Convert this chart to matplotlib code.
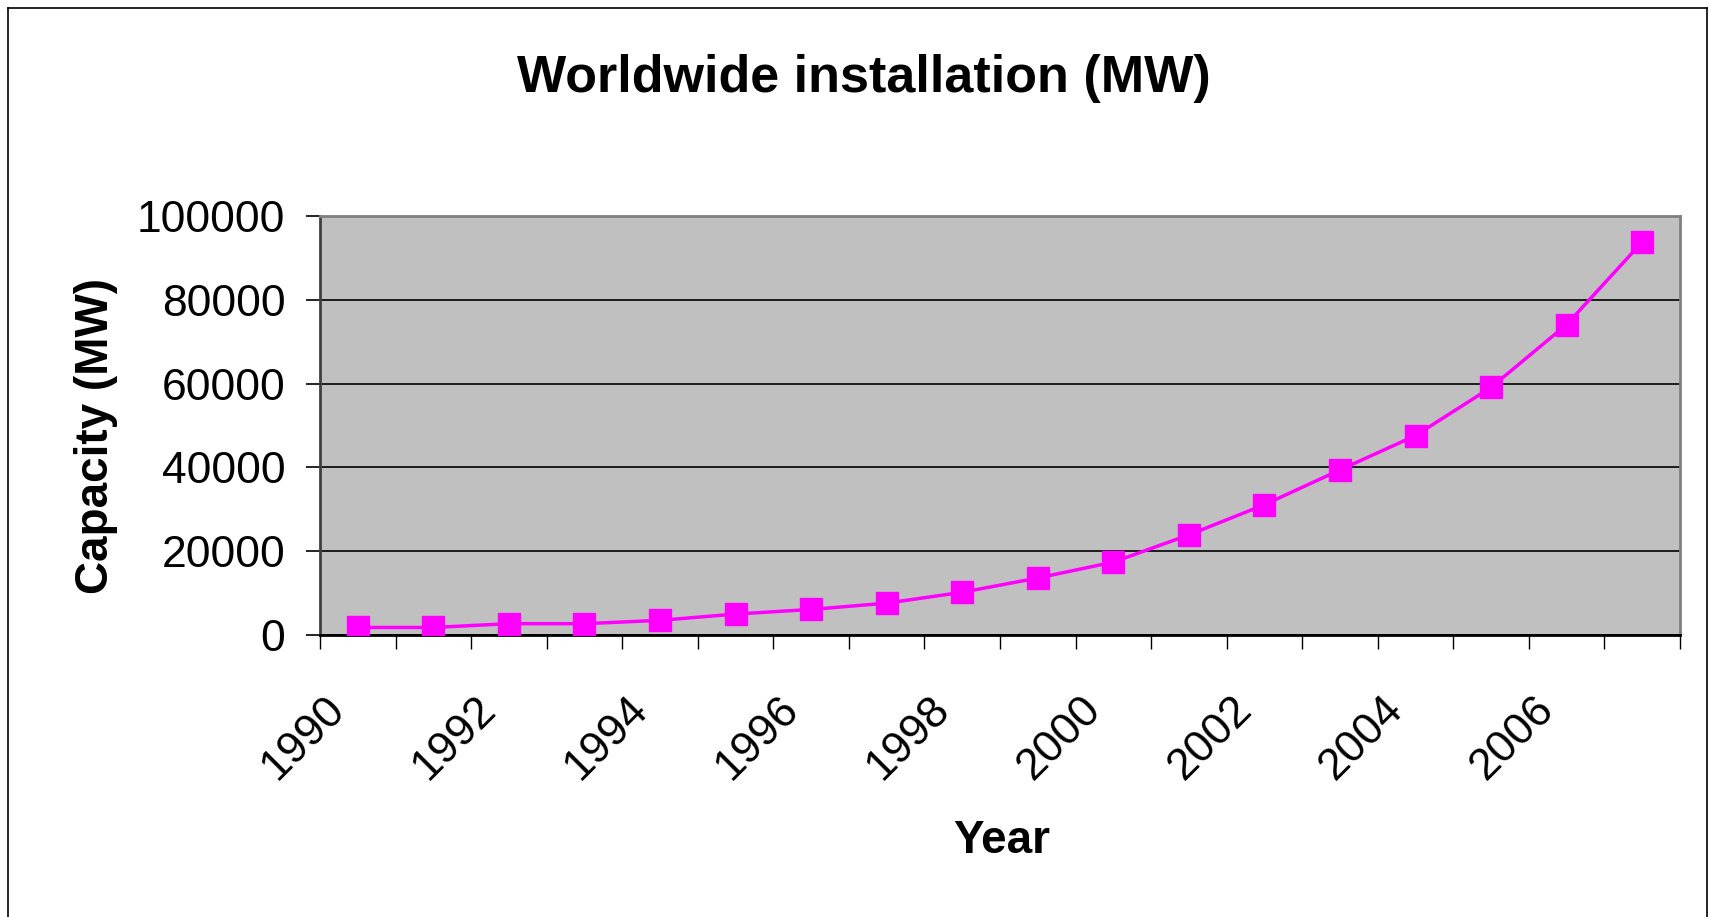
import matplotlib.pyplot as plt
from matplotlib.lines import Line2D
from matplotlib.transforms import ScaledTranslation
import numpy as np

plt.rcParams['font.family'] = ['Liberation Sans', 'DejaVu Sans']

# data
years = list(range(1990, 2008))
capacity = [1800, 1800, 2700, 2700, 3500, 5000, 6100, 7600, 10200, 13600,
            17400, 23900, 31100, 39400, 47600, 59100, 74100, 93800]
tick_years = [str(y) for y in range(1990, 2007, 2)]

W, H = 1709, 917
fig = plt.figure(figsize=(W / 100, H / 100), dpi=100)

# outer chart border
for xs, ys in [([8 / W, 8 / W], [0, 1 - 8 / H]),
               ([8 / W, 1 - 2 / W], [1 - 8 / H, 1 - 8 / H]),
               ([1 - 2 / W, 1 - 2 / W], [0, 1 - 8 / H])]:
    fig.add_artist(Line2D(xs, ys, color='black', lw=1.2, transform=fig.transFigure))

ax = fig.add_axes([320 / W, 1 - 635 / H, 1360 / W, 419 / H])
ax.set_facecolor('#C0C0C0')
for s in ax.spines.values():
    s.set_color('#808080')
    s.set_linewidth(2)
ax.spines['bottom'].set_color('black')
ax.spines['left'].set_color('#404040')

idx = np.arange(len(years))
ax.plot(idx, capacity, color='#FF00FF', lw=2.5, marker='s', markersize=15.5,
        markerfacecolor='#FF00FF', markeredgecolor='#FF00FF', zorder=3)

ax.set_xlim(-0.5, len(years) - 0.5)
ax.set_ylim(0, 100000)
ax.set_yticks(range(0, 100001, 20000))
ax.yaxis.grid(True, color='black', lw=1.2)
ax.set_axisbelow(True)
ax.tick_params(axis='y', labelsize=32, length=10, width=1.2, pad=15)

# labels on categories, tick marks between categories
ax.set_xticks(idx[::2])
ax.set_xticks(np.arange(-0.5, len(years)), minor=True)
ax.tick_params(axis='x', which='major', length=0, pad=55)
ax.tick_params(axis='x', which='minor', length=10, width=1.0)
ax.set_xticklabels(tick_years, rotation=45, ha='right', va='baseline',
                   rotation_mode='anchor', fontsize=32)
shift = ScaledTranslation(-11 / 100, 0, fig.dpi_scale_trans)
for lbl in ax.get_xticklabels():
    lbl.set_transform(lbl.get_transform() + shift)

fig.text(864 / W, 1 - 92 / H, 'Worldwide installation (MW)', fontsize=37.5,
         fontweight='bold', ha='center', va='baseline')
fig.text(1002 / W, 1 - 853 / H, 'Year', fontsize=33, fontweight='bold',
         ha='center', va='baseline')
fig.text(108 / W, 1 - 436 / H, 'Capacity (MW)', fontsize=33, fontweight='bold',
         rotation=90, rotation_mode='anchor', ha='center', va='baseline')

fig.savefig('out.png', dpi=100)
